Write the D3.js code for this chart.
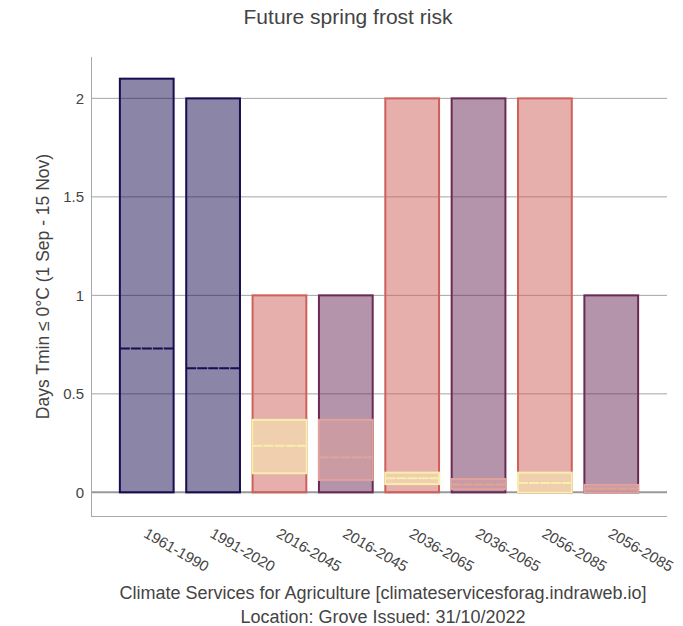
<!DOCTYPE html>
<html>
<head>
<meta charset="utf-8">
<script src="https://cdn.jsdelivr.net/npm/d3@7"></script>
<style>
  body { margin: 0; background: #fff; }
  svg { display: block; font-family: "Liberation Sans", Arial, Helvetica, sans-serif; }
</style>
</head>
<body>
<div id="container"></div>
<script>
/* DATA */
const periods = ["1961-1990", "1991-2020", "2016-2045", "2016-2045", "2036-2065", "2036-2065", "2056-2085", "2056-2085"]
const scenario = ["obs", "obs", "a", "b", "a", "b", "a", "b"]
// outer box: low / high / mean line
const outerLow = [0, 0, 0, 0, 0, 0, 0, 0]
const outerHigh = [2.1, 2, 1, 1, 2, 2, 2, 1]
const outerMean = [0.73, 0.63, null, null, null, null, null, null]
// inner box: low / mid / high
const innerLow = [null, null, 0.097, 0.063, 0.042, 0.016, 0, 0]
const innerMid = [null, null, 0.236, 0.178, 0.072, 0.04, 0.047, 0.02]
const innerHigh = [null, null, 0.368, 0.368, 0.1, 0.068, 0.1, 0.038]
const yTicks = [0, 0.5, 1, 1.5, 2]

/* CONSTANTS */
const width = 683,
  height = 626,
  margin = { top: 57, bottom: 110, left: 91, right: 16 }

const outerColor = { obs: "#170d50", a: "#cd605a", b: "#6a2a55" }
const innerColor = { a: "#f8efae", b: "#e0a29b" }

const idx = d3.range(periods.length)

const xScale = d3.scalePoint()
  .domain(idx)
  .range([margin.left, width - margin.right])
  .padding(0.84)

const yScale = d3.scaleLinear()
  .domain([-0.12, 2.21])
  .range([height - margin.bottom, margin.top])

const boxW = xScale.step() * 0.81

const svg = d3.select("#container")
  .append("svg")
  .attr("width", width)
  .attr("height", height)

// grid
svg.append("g")
  .selectAll("line")
  .data(yTicks.filter(d => d !== 0))
  .join("line")
  .attr("x1", margin.left)
  .attr("x2", width - margin.right)
  .attr("y1", d => yScale(d))
  .attr("y2", d => yScale(d))
  .attr("stroke", "#a4a4a4")
  .attr("stroke-width", 1)

// zero line
svg.append("line")
  .attr("x1", margin.left)
  .attr("x2", width - margin.right)
  .attr("y1", yScale(0))
  .attr("y2", yScale(0))
  .attr("stroke", "#999")
  .attr("stroke-width", 2)

// axis lines
svg.append("line")
  .attr("x1", margin.left + 0.5).attr("x2", margin.left + 0.5)
  .attr("y1", margin.top).attr("y2", height - margin.bottom)
  .attr("stroke", "#a8a8a8")
svg.append("line")
  .attr("x1", margin.left).attr("x2", width - margin.right)
  .attr("y1", height - margin.bottom + 0.5).attr("y2", height - margin.bottom + 0.5)
  .attr("stroke", "#a8a8a8")

// y axis
const yAxis = svg.append("g")
  .attr("transform", `translate(${margin.left - 4},0)`)
  .call(d3.axisLeft(yScale).tickValues(yTicks).tickSize(0).tickFormat(d3.format("")))
yAxis.select(".domain").remove()
yAxis.selectAll("text")
  .attr("font-size", 15)
  .attr("fill", "#444")
  .attr("font-family", "Liberation Sans, Arial, sans-serif")

// x labels
svg.append("g")
  .selectAll("text")
  .data(idx)
  .join("text")
  .attr("transform", i => `translate(${xScale(i) + 2},${height - margin.bottom + 10}) rotate(30)`)
  .attr("dy", "0.8em")
  .attr("font-size", 15)
  .attr("fill", "#444")
  .text(i => periods[i])

// outer boxes
const outer = svg.append("g")
outer.selectAll("rect")
  .data(idx)
  .join("rect")
  .attr("x", i => xScale(i) - boxW / 2)
  .attr("width", boxW)
  .attr("y", i => yScale(outerHigh[i]))
  .attr("height", i => yScale(outerLow[i]) - yScale(outerHigh[i]))
  .attr("fill", i => outerColor[scenario[i]])
  .attr("fill-opacity", 0.5)
  .attr("stroke", i => outerColor[scenario[i]])
  .attr("stroke-width", 2)

outer.selectAll("line")
  .data(idx.filter(i => outerMean[i] != null))
  .join("line")
  .attr("x1", i => xScale(i) - boxW / 2)
  .attr("x2", i => xScale(i) + boxW / 2)
  .attr("y1", i => yScale(outerMean[i]))
  .attr("y2", i => yScale(outerMean[i]))
  .attr("stroke", i => outerColor[scenario[i]])
  .attr("stroke-width", 2)
  .attr("stroke-dasharray", "10,1")

// inner boxes
const innerIdx = idx.filter(i => innerLow[i] != null)
const inner = svg.append("g")
inner.selectAll("rect")
  .data(innerIdx)
  .join("rect")
  .attr("x", i => xScale(i) - boxW / 2)
  .attr("width", boxW)
  .attr("y", i => yScale(innerHigh[i]))
  .attr("height", i => yScale(innerLow[i]) - yScale(innerHigh[i]))
  .attr("fill", i => innerColor[scenario[i]])
  .attr("fill-opacity", 0.5)
  .attr("stroke", i => innerColor[scenario[i]])
  .attr("stroke-width", 2)

inner.selectAll("line")
  .data(innerIdx)
  .join("line")
  .attr("x1", i => xScale(i) - boxW / 2)
  .attr("x2", i => xScale(i) + boxW / 2)
  .attr("y1", i => yScale(innerMid[i]))
  .attr("y2", i => yScale(innerMid[i]))
  .attr("stroke", i => innerColor[scenario[i]])
  .attr("stroke-width", 2)
  .attr("stroke-dasharray", "10,1")

// titles
svg.append("text")
  .attr("x", 348)
  .attr("y", 24)
  .attr("text-anchor", "middle")
  .attr("font-size", 21)
  .attr("fill", "#444")
  .text("Future spring frost risk")

svg.append("text")
  .attr("transform", `translate(49,${(margin.top + height - margin.bottom) / 2}) rotate(-90)`)
  .attr("text-anchor", "middle")
  .attr("font-size", 17.5)
  .attr("fill", "#444")
  .text("Days Tmin ≤ 0°C (1 Sep - 15 Nov)")

const xTitle = svg.append("text")
  .attr("text-anchor", "middle")
  .attr("font-size", 18)
  .attr("fill", "#444")
xTitle.append("tspan")
  .attr("x", 383).attr("y", 599)
  .text("Climate Services for Agriculture [climateservicesforag.indraweb.io]")
xTitle.append("tspan")
  .attr("x", 383).attr("y", 623)
  .text("Location: Grove Issued: 31/10/2022")
</script>
</body>
</html>
